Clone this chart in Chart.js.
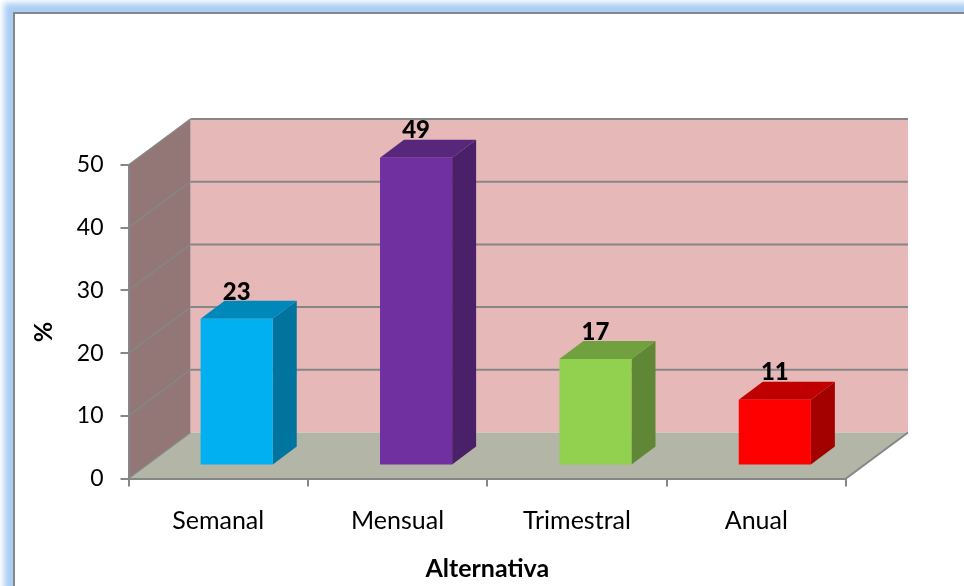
<!DOCTYPE html>
<html>
<head>
  <meta charset="UTF-8">
  <title>Alternativa</title>
  <script src="https://cdn.jsdelivr.net/npm/chart.js"></script>
  <style>
    html, body { margin: 0; padding: 0; width: 964px; height: 586px; overflow: hidden; background: #fff; }
    #frame { position: absolute; left: 13px; top: 12px; width: 1000px; height: 640px; border: 2px solid #868686; box-sizing: border-box;
             box-shadow: 0 0 6px 9px #abcef5; }
    canvas { position: absolute; left: 0; top: 0; }
  </style>
</head>
<body>
  <div id="frame"></div>
  <canvas id="chart" width="964" height="586"></canvas>

  <script>
    const categories = ['Semanal', 'Mensual', 'Trimestral', 'Anual'];
    const percentValues = [23.4, 49.1, 17, 10.5];
    const yTicks = [0, 10, 20, 30, 40, 50];

    const frontColors = ['#00b0f0', '#7030a0', '#92d050', '#ff0000'];
    const topColors = ['#0088ba', '#57277c', '#71a03e', '#c00000'];
    const sideColors = ['#00739e', '#4a2069', '#5f8735', '#a30000'];

    // profundidad de la caja y de las barras
    const WALL_DX = 62, WALL_DY = -46;
    const BAR_SHIFT_X = 18.5, BAR_SHIFT_Y = -13;
    const BAR_DX = 24, BAR_DY = -18;
    const LINE = '#868686';
    const FONT = 'Lato, sans-serif';

    function poly(ctx, pts, fill) {
      ctx.beginPath();
      pts.forEach((p, i) => i ? ctx.lineTo(p[0], p[1]) : ctx.moveTo(p[0], p[1]));
      ctx.closePath();
      ctx.fillStyle = fill;
      ctx.fill();
    }

    function seg(ctx, x1, y1, x2, y2, w) {
      ctx.beginPath();
      ctx.moveTo(x1, y1);
      ctx.lineTo(x2, y2);
      ctx.lineWidth = w;
      ctx.strokeStyle = LINE;
      ctx.stroke();
    }

    // paredes, piso y lineas de division
    const boxPlugin = {
      id: 'box',
      beforeDraw(chart) {
        const { ctx, chartArea: a, scales: { y } } = chart;
        const bx = a.left + WALL_DX, by = a.bottom + WALL_DY, ty = a.top + WALL_DY;
        ctx.save();
        poly(ctx, [[bx, ty], [a.right + WALL_DX, ty], [a.right + WALL_DX, by], [bx, by]], '#e6b8b7');
        poly(ctx, [[a.left, a.bottom], [bx, by], [bx, ty], [a.left, a.top]], '#937777');
        poly(ctx, [[a.left, a.bottom], [a.right, a.bottom], [a.right + WALL_DX, by], [bx, by]], '#b3b5a6');
        yTicks.forEach(v => {
          const py = y.getPixelForValue(v);
          seg(ctx, a.left, py, bx, py + WALL_DY, 1.5);
          if (v > 0) seg(ctx, bx, py + WALL_DY, a.right + WALL_DX, py + WALL_DY, 2);
        });
        seg(ctx, a.right, a.bottom, a.right + WALL_DX, by, 2);
        ctx.restore();
      }
    };

    // caras superior y lateral de cada barra, etiquetas de valor y titulo del eje y
    const barPlugin = {
      id: 'bars3d',
      beforeDatasetDraw(chart, args) {
        const { ctx } = chart;
        ctx.save();
        ctx.translate(BAR_SHIFT_X, BAR_SHIFT_Y);
        args.meta.data.forEach((bar, i) => {
          const l = bar.x - bar.width / 2, r = bar.x + bar.width / 2;
          poly(ctx, [[r, bar.y], [r + BAR_DX, bar.y + BAR_DY], [r + BAR_DX, bar.base + BAR_DY], [r, bar.base]], sideColors[i]);
          poly(ctx, [[l, bar.y], [l + BAR_DX, bar.y + BAR_DY], [r + BAR_DX, bar.y + BAR_DY], [r, bar.y]], topColors[i]);
        });
      },
      afterDatasetDraw(chart) {
        chart.ctx.restore();
      },
      afterDatasetsDraw(chart) {
        const { ctx } = chart;
        ctx.save();
        ctx.font = '900 24px ' + FONT;
        ctx.fillStyle = '#000';
        ctx.textAlign = 'center';
        ctx.textBaseline = 'middle';
        chart.getDatasetMeta(0).data.forEach((bar, i) => {
          ctx.fillText(Math.round(percentValues[i]), bar.x + BAR_SHIFT_X, bar.y + BAR_SHIFT_Y - 27);
        });
        ctx.translate(44, 332);
        ctx.rotate(-Math.PI / 2);
        ctx.font = 'bold 25px ' + FONT;
        ctx.fillText('%', 0, 0);
        ctx.restore();
      }
    };

    new Chart(document.getElementById('chart'), {
      type: 'bar',
      data: {
        labels: categories,
        datasets: [{
          label: '%',
          data: percentValues,
          backgroundColor: frontColors,
          borderWidth: 0,
          barPercentage: 0.402,
          categoryPercentage: 1,
          clip: false
        }]
      },
      options: {
        responsive: false,
        animation: false,
        layout: { padding: { top: 165, right: 118, left: 0, bottom: 0 } },
        plugins: { legend: { display: false }, tooltip: { enabled: false } },
        scales: {
          x: {
            afterFit: s => { s.height = 107.5; },
            border: { color: LINE, width: 2 },
            grid: { drawOnChartArea: false, color: LINE, lineWidth: 2, tickLength: 8 },
            ticks: { color: '#000', font: { family: FONT, size: 25 }, padding: 19, maxRotation: 0 },
            title: { display: true, text: 'Alternativa', color: '#000', font: { family: FONT, size: 25, weight: 'bold' }, padding: { top: 0, bottom: 2 } }
          },
          y: {
            min: 0,
            max: 50,
            afterFit: s => { s.width = 128.5; },
            border: { color: LINE, width: 2 },
            grid: { drawOnChartArea: false, color: LINE, lineWidth: 2, tickLength: 8 },
            ticks: { stepSize: 10, color: '#000', font: { family: FONT, size: 23 }, padding: 17 }
          }
        }
      },
      plugins: [boxPlugin, barPlugin]
    });
  </script>
</body>
</html>
